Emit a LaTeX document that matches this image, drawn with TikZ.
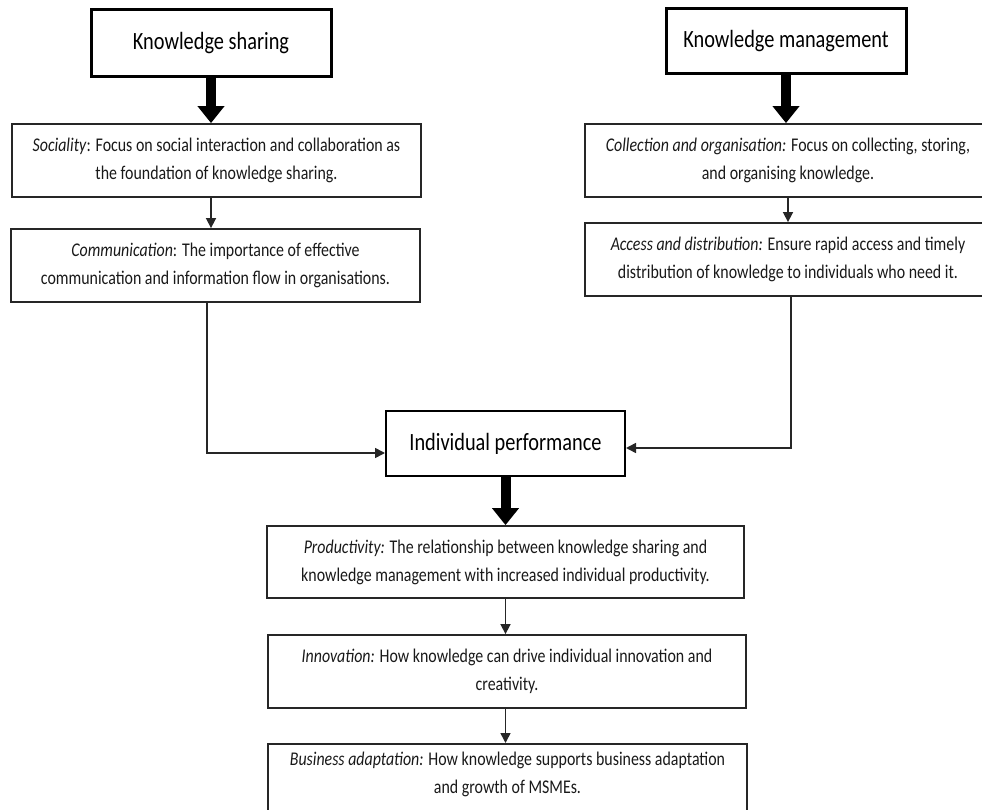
\documentclass[tikz,border=0pt]{standalone}
\usepackage{fontspec}
\setmainfont{Carlito}[FakeStretch=0.82]
\usetikzlibrary{arrows.meta,calc}
\begin{document}
\begin{tikzpicture}[x=1pt,y=-1pt,
  box/.style={draw=black!85,line width=1.8pt,rectangle,align=center,inner sep=0pt,
    text=black!90,font=\fontsize{19.4}{28}\selectfont},
  plaintext/.style={align=center,inner sep=0pt,text=black!90,font=\fontsize{19.4}{28}\selectfont},
  titlebox/.style={draw=black,line width=3pt,rectangle,inner sep=0pt,align=center,
    minimum width=240pt,font=\fontsize{24.8}{28}\selectfont},
  thinarrow/.style={draw=black!85,line width=1.6pt,-{Triangle[length=10pt,width=10pt]}},
  fatarrow/.style={draw=black,line width=10pt,-{Triangle[length=17pt,width=26pt]}}]
\path[use as bounding box,clip] (0,0) rectangle (982,810);

% title boxes
\node[titlebox,minimum height=67pt] (ks) at (211,43.5) {Knowledge sharing};
\node[titlebox,minimum height=65pt] (km) at (786,41.5) {Knowledge management};

% left column
\node[box,minimum width=409pt,minimum height=73pt] (soc) at (216.5,160.5)
  {\textit{Sociality}: Focus on social interaction and collaboration as\\the foundation of knowledge sharing.};
\node[box,minimum width=409pt,minimum height=73pt] (com) at (215.5,265.5)
  {\textit{Communication}: The importance of effective\\communication and information flow in organisations.};

% right column
\node[box,minimum width=406pt,minimum height=73pt] (col) at (788,160.5)
  {\textit{Collection and organisation:} Focus on collecting, storing,\\and organising knowledge.};
\node[box,minimum width=406pt,minimum height=73pt] (acc) at (788,259.5)
  {\textit{Access and distribution:} Ensure rapid access and timely\\distribution of knowledge to individuals who need it.};

% centre
\node[titlebox,line width=2pt,minimum width=239pt,minimum height=65pt] (ip) at (505.5,443.5) {Individual performance};

\node[box,minimum width=477pt,minimum height=72pt] (prod) at (505.5,562)
  {\textit{Productivity:} The relationship between knowledge sharing and\\knowledge management with increased individual productivity.};
\node[box,minimum width=478pt,minimum height=73pt] (inn) at (507,671.5)
  {\textit{Innovation:} How knowledge can drive individual innovation and\\creativity.};
\node[box,minimum width=479pt,minimum height=90pt,anchor=north] (bus) at (507.5,743) {};
\node[plaintext] (busT) at (507.5,774)
  {\textit{Business adaptation:} How knowledge supports business adaptation\\and growth of MSMEs.};

% fat arrows
\draw[fatarrow] (ks.south) -- (ks.south |- soc.north);
\draw[fatarrow] (km.south) -- (km.south |- col.north);
\draw[fatarrow] (ip.south) -- (ip.south |- prod.north);

% thin arrows
\draw[thinarrow] (ks.south |- soc.south) -- (ks.south |- com.north);
\draw[thinarrow] (col.south) -- (acc.north);
\draw[thinarrow] (prod.south) -- (prod.south |- inn.north);
\draw[thinarrow] (prod.south |- inn.south) -- (prod.south |- bus.north);

\coordinate (cL) at ($(com.south)+(-8.5,0)$);
\coordinate (cR) at ($(acc.south)+(3,0)$);
\draw[thinarrow] (cL) |- ($(ip.west)+(0,9.5)$);
\draw[thinarrow] (cR) |- ($(ip.east)+(0,4.5)$);
\end{tikzpicture}
\end{document}
